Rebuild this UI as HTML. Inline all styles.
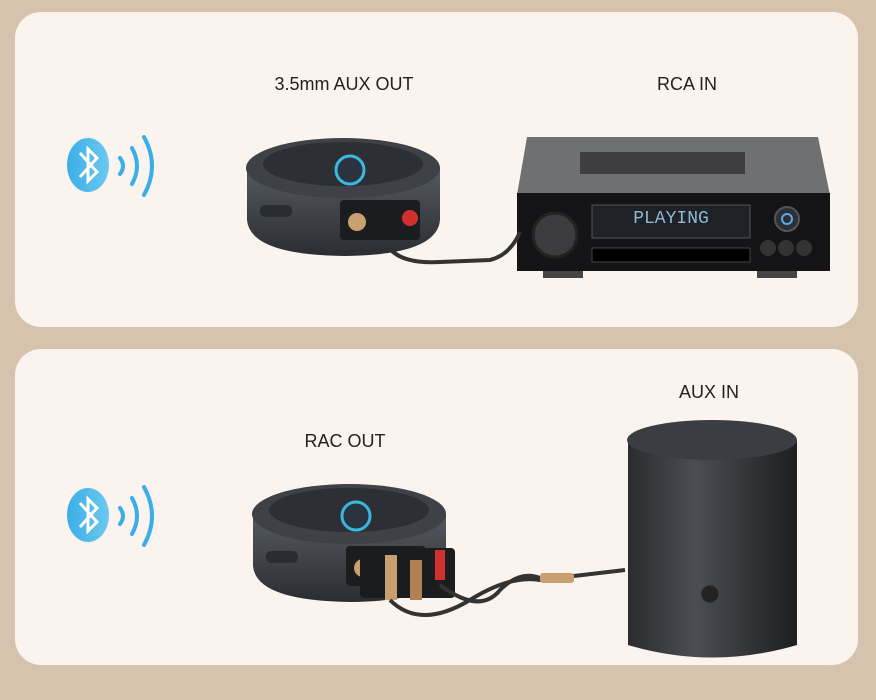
<!DOCTYPE html><html><head><style>body{margin:0;background:#d6c3ae}svg{display:block}</style></head><body>
<svg width="876" height="700" xmlns="http://www.w3.org/2000/svg" font-family="Liberation Sans, sans-serif">
<defs>
<linearGradient id="puck" x1="0" x2="0" y1="0" y2="1"><stop offset="0" stop-color="#555a60"/><stop offset="1" stop-color="#2a2d31"/></linearGradient>
<linearGradient id="spk" x1="0" x2="1"><stop offset="0" stop-color="#2a2c2f"/><stop offset="0.4" stop-color="#4a4d52"/><stop offset="1" stop-color="#1d1e20"/></linearGradient>
<linearGradient id="bt" x1="0" x2="1"><stop offset="0" stop-color="#3aaee8"/><stop offset="1" stop-color="#6cc8f0"/></linearGradient>
</defs>
<rect x="15" y="12" width="843" height="315" rx="26" fill="#fbf4ee"/>
<rect x="15" y="349" width="843" height="316" rx="26" fill="#fbf4ee"/>
<g font-size="18" fill="#222" text-anchor="middle">
<text x="344" y="90">3.5mm AUX OUT</text><text x="687" y="90">RCA IN</text>
<text x="345" y="447">RAC OUT</text><text x="709" y="398">AUX IN</text></g>
<!-- bluetooth icons -->
<g id="b1"><ellipse cx="88" cy="165" rx="21" ry="27" fill="url(#bt)"/>
<path d="M80 153 L97 172 L88 181 L88 149 L97 158 L80 177" stroke="#fff" stroke-width="3" fill="none"/>
<path d="M120 158 Q126 166 120 174 M132 148 Q142 166 132 184 M144 137 Q160 166 144 195" stroke="#3aaee8" stroke-width="4" fill="none" stroke-linecap="round"/></g>
<use href="#b1" y="350"/>
<!-- receiver -->
<path d="M527 137 L818 137 L830 195 L517 195 Z" fill="#6f7072"/>
<rect x="580" y="152" width="165" height="22" fill="#3e3e40"/>
<rect x="517" y="193" width="313" height="78" fill="#141416"/>
<rect x="592" y="205" width="158" height="33" fill="#1e2226" stroke="#555"/>
<text x="671" y="223" font-family="Liberation Mono, monospace" font-size="18" fill="#8fb8d8" text-anchor="middle">PLAYING</text>
<rect x="592" y="248" width="158" height="14" fill="#000" stroke="#444"/>
<circle cx="555" cy="235" r="22" fill="#3c3c3e" stroke="#222" stroke-width="3"/>
<circle cx="787" cy="219" r="12" fill="#2b3038" stroke="#555" stroke-width="2"/><circle cx="787" cy="219" r="5" fill="none" stroke="#5fa8e0" stroke-width="2"/>
<circle cx="768" cy="248" r="8" fill="#333"/><circle cx="786" cy="248" r="8" fill="#333"/><circle cx="804" cy="248" r="8" fill="#333"/>
<rect x="543" y="271" width="40" height="7" fill="#444"/><rect x="757" y="271" width="40" height="7" fill="#444"/>
<!-- cable 1 -->
<path d="M383 230 Q385 265 440 262 L490 260 Q510 255 520 232" stroke="#333" stroke-width="4" fill="none"/>
<!-- puck 1 -->
<g id="p"><path d="M247 168 L247 220 Q250 255 345 256 Q437 255 440 220 L440 168 Z" fill="url(#puck)"/>
<ellipse cx="343" cy="168" rx="97" ry="30" fill="#3e4247"/>
<ellipse cx="343" cy="164" rx="80" ry="22" fill="#2c2f33"/>
<circle cx="350" cy="170" r="14" fill="#2a3340" stroke="#3cb8e0" stroke-width="3"/>
<rect x="260" y="205" width="32" height="12" rx="5" fill="#2a2c2f"/>
<rect x="340" y="200" width="80" height="40" rx="4" fill="#1b1c1e"/>
<circle cx="357" cy="222" r="9" fill="#c8a070"/><circle cx="410" cy="218" r="8" fill="#d03030"/></g>
<!-- speaker -->
<path d="M628 440 L628 645 Q712 670 797 645 L797 440 Z" fill="url(#spk)"/>
<ellipse cx="712" cy="440" rx="85" ry="20" fill="#3a3d41"/>
<circle cx="710" cy="594" r="9" fill="#222" stroke="#444"/>
<!-- puck 2 -->
<use href="#p" x="6" y="346"/>
<rect x="360" y="548" width="95" height="50" rx="4" fill="#1b1c1e"/>
<rect x="385" y="555" width="12" height="45" fill="#c8a070"/><rect x="410" y="560" width="12" height="40" fill="#b08050"/><rect x="435" y="550" width="10" height="30" fill="#d03030"/>
<path d="M390 600 Q420 630 470 600 Q510 575 540 580 L625 570" stroke="#333" stroke-width="4" fill="none"/>
<path d="M440 585 Q480 615 500 590 Q520 570 540 578" stroke="#333" stroke-width="4" fill="none"/>
<rect x="540" y="573" width="34" height="10" rx="3" fill="#c8a070"/>
</svg></body></html>
